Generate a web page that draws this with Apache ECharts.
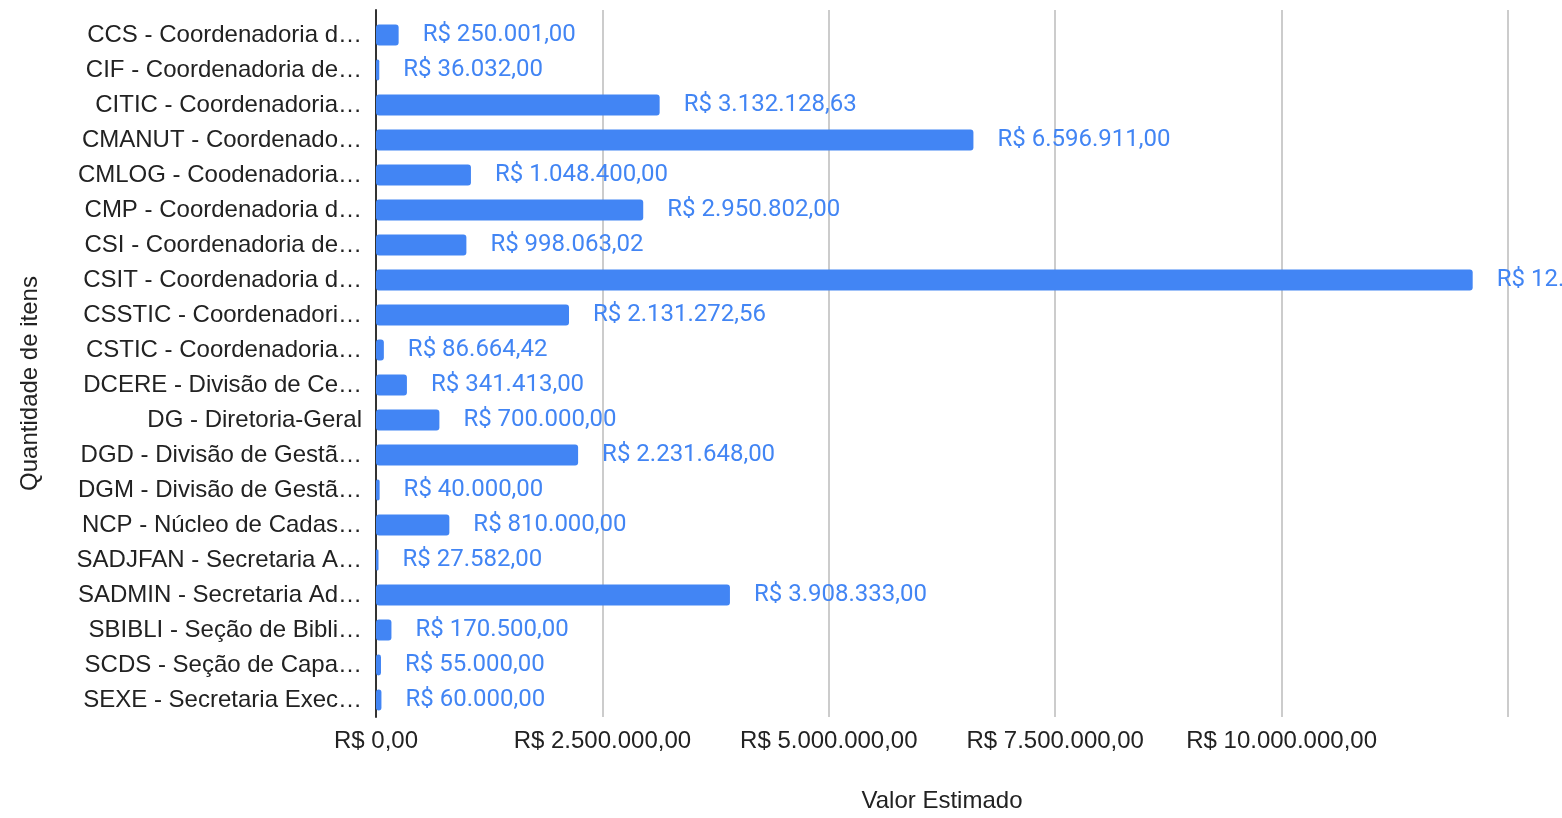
<!DOCTYPE html>
<html>
<head>
<meta charset="utf-8">
<script src="https://cdn.jsdelivr.net/npm/echarts@6/dist/echarts.min.js"></script>
<style>
  html, body { margin: 0; padding: 0; background: #fff; }
  #chart { width: 1562px; height: 818px; }
</style>
</head>
<body>
<div id="chart"></div>
<script>
// categorias (como aparecem no gráfico)
const categories = [
  'CCS - Coordenadoria d…',
  'CIF - Coordenadoria de…',
  'CITIC - Coordenadoria…',
  'CMANUT - Coordenado…',
  'CMLOG - Coodenadoria…',
  'CMP - Coordenadoria d…',
  'CSI - Coordenadoria de…',
  'CSIT - Coordenadoria d…',
  'CSSTIC - Coordenadori…',
  'CSTIC - Coordenadoria…',
  'DCERE - Divisão de Ce…',
  'DG - Diretoria-Geral',
  'DGD - Divisão de Gestã…',
  'DGM - Divisão de Gestã…',
  'NCP - Núcleo de Cadas…',
  'SADJFAN - Secretaria A…',
  'SADMIN - Secretaria Ad…',
  'SBIBLI - Seção de Bibli…',
  'SCDS - Seção de Capa…',
  'SEXE - Secretaria Exec…'
]

// valor estimado (R$)
const valores = [
  250001.00, 36032.00, 3132128.63, 6596911.00, 1048400.00,
  2950802.00, 998063.02, 12110000.00, 2131272.56, 86664.42,
  341413.00, 700000.00, 2231648.00, 40000.00, 810000.00,
  27582.00, 3908333.00, 170500.00, 55000.00, 60000.00
]

const xMax = 12500000
const xInterval = 2500000
const fonte = "'Liberation Sans', Arial, sans-serif"

function formatBRL(v) {
  const parts = Number(v).toFixed(2).split('.')
  const inteiro = parts[0].replace(/\B(?=(\d{3})+(?!\d))/g, '.')
  return 'R$ ' + inteiro + ',' + parts[1]
}

const chart = echarts.init(document.getElementById('chart'))
chart.setOption({
  animation: false,
  // grid 0: linhas de grade e eixos (um pouco mais altos que as barras)
  // grid 1: barras e categorias
  grid: [
    { left: 376, right: 54, top: 10, bottom: 96, containLabel: false },
    { left: 376, right: 54, top: 17.5, bottom: 100.5, containLabel: false }
  ],
  xAxis: [{
    gridIndex: 0,
    type: 'value',
    min: 0,
    max: xMax,
    interval: xInterval,
    name: 'Valor Estimado',
    nameLocation: 'middle',
    nameGap: 72,
    nameTextStyle: { fontFamily: fonte, fontSize: 24, color: '#222' },
    axisLine: { show: false },
    axisTick: { show: false },
    axisLabel: {
      fontFamily: fonte,
      fontSize: 24,
      color: '#222',
      margin: 12,
      formatter: function (v) { return v >= xMax ? '' : formatBRL(v) }
    },
    splitLine: { lineStyle: { color: '#cccccc', width: 2 } }
  }, {
    gridIndex: 1,
    type: 'value',
    min: 0,
    max: xMax,
    interval: xInterval,
    show: false
  }],
  yAxis: [{
    gridIndex: 0,
    type: 'value',
    min: 0,
    max: 1,
    name: 'Quantidade de itens',
    nameLocation: 'middle',
    nameRotate: 90,
    nameGap: 334,
    nameTextStyle: { fontFamily: fonte, fontSize: 24, color: '#222', padding: [0, 40, 0, 0] },
    axisLine: { show: true, lineStyle: { color: '#333', width: 2 } },
    axisTick: { show: false },
    axisLabel: { show: false },
    splitLine: { show: false }
  }, {
    gridIndex: 1,
    type: 'category',
    inverse: true,
    data: categories,
    axisLine: { show: false },
    axisTick: { show: false },
    axisLabel: {
      fontFamily: fonte,
      fontSize: 24,
      color: '#222',
      margin: 14
    }
  }],
  series: [{
    type: 'bar',
    xAxisIndex: 1,
    yAxisIndex: 1,
    data: valores,
    barWidth: 21,
    itemStyle: { color: '#4285f4', borderRadius: 3 },
    z: 3,
    label: {
      show: true,
      position: 'right',
      distance: 24,
      fontFamily: 'Roboto',
      fontSize: 24,
      color: '#4285f4',
      formatter: function (p) { return formatBRL(p.value) }
    }
  }]
})
</script>
</body>
</html>
